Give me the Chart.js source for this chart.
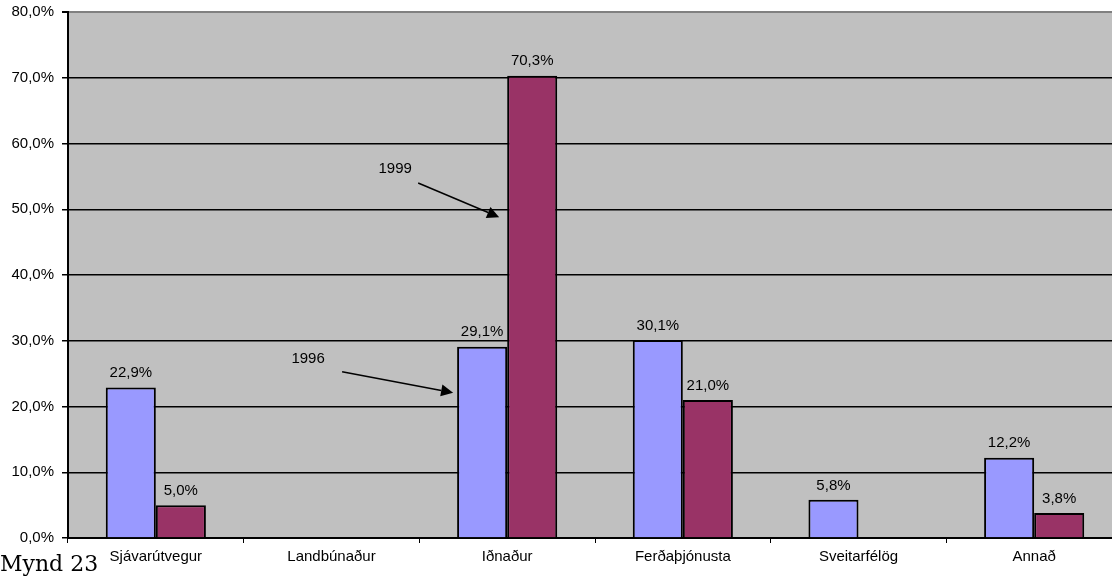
<!DOCTYPE html>
<html lang="is">
<head>
<meta charset="UTF-8">
<title>Mynd 23</title>
<script src="https://cdn.jsdelivr.net/npm/chart.js"></script>
<style>
  html, body { margin: 0; padding: 0; overflow: hidden; background: #fff; }
  #wrap { position: absolute; left: 0; top: 0; width: 1122px; height: 581px; }
  #caption { position: absolute; left: 0; top: 551px; font: 22px "DejaVu Serif", serif; color: #000; }
</style>
</head>
<body>
<div id="wrap"><canvas id="chart"></canvas></div>
<div id="caption">Mynd 23</div>
<script>
var categories = ['Sjávarútvegur', 'Landbúnaður', 'Iðnaður', 'Ferðaþjónusta', 'Sveitarfélög', 'Annað']
var values1996 = [22.9, null, 29.1, 30.1, 5.8, 12.2]
var values1999 = [5.0, null, 70.3, 21.0, null, 3.8]
var yTicks = [0, 10, 20, 30, 40, 50, 60, 70, 80]

var FONT = '"Liberation Sans", Arial, sans-serif'

function pct(v) { return v.toFixed(1).replace('.', ',') + '%' }

// grey plot background
var bgPlugin = {
  id: 'bg',
  beforeDraw: function (chart) {
    var a = chart.chartArea, ctx = chart.ctx
    ctx.save()
    ctx.fillStyle = '#C0C0C0'
    ctx.fillRect(a.left, a.top, a.right - a.left, a.bottom - a.top)
    ctx.restore()
  }
}

// value labels over the bars
var labelPlugin = {
  id: 'valueLabels',
  afterDatasetsDraw: function (chart) {
    var ctx = chart.ctx
    ctx.save()
    ctx.font = '15px ' + FONT
    ctx.fillStyle = '#000'
    ctx.textAlign = 'center'
    ctx.textBaseline = 'bottom'
    chart.data.datasets.forEach(function (ds, i) {
      chart.getDatasetMeta(i).data.forEach(function (bar, j) {
        var v = ds.data[j]
        if (v == null) return
        ctx.fillText(pct(v), bar.x, bar.y - 7)
      })
    })
    ctx.restore()
  }
}

// the two arrows naming the years, tied to the Iðnaður bars
var arrowPlugin = {
  id: 'arrows',
  afterDatasetsDraw: function (chart) {
    var ctx = chart.ctx, y = chart.scales.y
    var blue = chart.getDatasetMeta(0).data[2]
    var red = chart.getDatasetMeta(1).data[2]
    var notes = [
      { text: '1999', bar: red, tipDx: -8, tipV: 48.8, tailDx: -89, tailV: 54.0, textDx: -112, textV: 56.1 },
      { text: '1996', bar: blue, tipDx: -4, tipV: 22.1, tailDx: -115, tailV: 25.3, textDx: -149, textV: 27.3 }
    ]
    ctx.save()
    ctx.strokeStyle = '#000'
    ctx.fillStyle = '#000'
    ctx.lineWidth = 1.5
    ctx.font = '15px ' + FONT
    ctx.textAlign = 'center'
    ctx.textBaseline = 'middle'
    notes.forEach(function (n) {
      var left = n.bar.x - n.bar.width / 2
      var tx = left + n.tipDx, ty = y.getPixelForValue(n.tipV)
      var sx = left + n.tailDx, sy = y.getPixelForValue(n.tailV)
      var ang = Math.atan2(ty - sy, tx - sx)
      var hl = 12, hw = 6
      var bx = tx - hl * Math.cos(ang), by = ty - hl * Math.sin(ang)
      ctx.beginPath()
      ctx.moveTo(sx, sy)
      ctx.lineTo(bx, by)
      ctx.stroke()
      ctx.beginPath()
      ctx.moveTo(tx, ty)
      ctx.lineTo(bx + hw * Math.sin(ang), by - hw * Math.cos(ang))
      ctx.lineTo(bx - hw * Math.sin(ang), by + hw * Math.cos(ang))
      ctx.closePath()
      ctx.fill()
      ctx.fillText(n.text, left + n.textDx, y.getPixelForValue(n.textV))
    })
    ctx.restore()
  }
}

var chart = new Chart(document.getElementById('chart'), {
  type: 'bar',
  data: {
    labels: categories,
    datasets: [
      { label: '1996', data: values1996, backgroundColor: '#9999FF', borderColor: '#000', borderWidth: 2 },
      { label: '1999', data: values1999, backgroundColor: '#993366', borderColor: '#000', borderWidth: 2 }
    ]
  },
  options: {
    responsive: true,
    maintainAspectRatio: false,
    animation: false,
    categoryPercentage: 0.57,
    barPercentage: 1.0,
    layout: { padding: { top: 12, right: 0, bottom: 0, left: 0 } },
    plugins: { legend: { display: false }, tooltip: { enabled: false } },
    scales: {
      x: {
        grid: { offset: true, drawOnChartArea: false, drawTicks: true, tickLength: 5, color: '#000' },
        border: { display: true, color: '#000', width: 2 },
        ticks: { color: '#000', font: { family: FONT, size: 15 }, padding: 5, maxRotation: 0 },
        afterFit: function (s) { s.height = 43 }
      },
      y: {
        min: 0,
        max: 80,
        afterBuildTicks: function (s) { s.ticks = yTicks.map(function (v) { return { value: v } }) },
        grid: {
          color: function (c) { return c.tick && c.tick.value === 80 ? '#808080' : '#000' },
          tickColor: '#000',
          lineWidth: function (c) { return c.tick && c.tick.value === 80 ? 2 : 1.5 },
          tickLength: 6
        },
        border: { display: true, color: '#000', width: 2 },
        ticks: {
          color: '#000',
          font: { family: FONT, size: 15 },
          padding: 8,
          callback: function (v) { return pct(v) }
        },
        afterFit: function (s) { s.width = 68; s.paddingTop = 0; s.paddingBottom = 0 }
      }
    }
  },
  plugins: [bgPlugin, labelPlugin, arrowPlugin]
})
</script>
</body>
</html>
